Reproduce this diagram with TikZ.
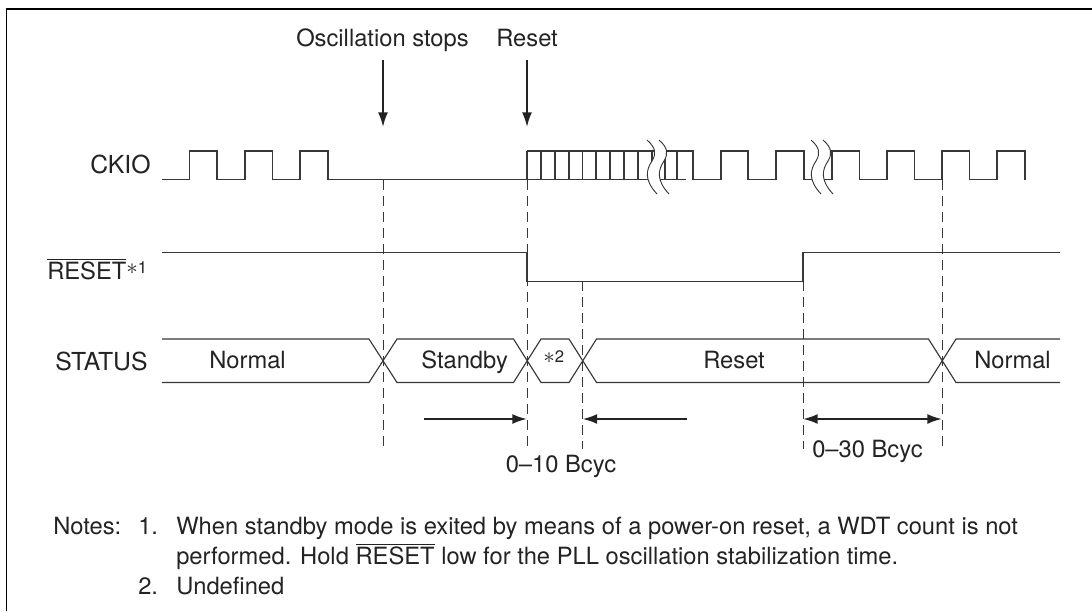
\documentclass[tikz,border=0pt]{standalone}
\usepackage{fontspec}
\setmainfont{TeX Gyre Heros}
\usepackage{tikz}
\usetikzlibrary{arrows.meta}
\definecolor{ink}{RGB}{35, 35, 35}
\definecolor{wave}{RGB}{55, 55, 55}
\newcommand{\resetbar}{$\overline{\mbox{RESET}}$}
\newcommand{\starnote}[1]{\raisebox{3.4pt}{\fontsize{17.3}{17}\selectfont$\ast$}\raisebox{4.4pt}{\fontsize{12.5}{13}\selectfont#1}}
\begin{document}
\begin{tikzpicture}[
    x=0.75pt, y=-0.75pt,
    lbl/.style={anchor=base west, inner sep=0pt, text=ink, font=\fontsize{17.8}{20}\selectfont},
    caps/.style={lbl, font=\fontsize{18.6}{20}\selectfont},
    sig/.style={draw=wave, line width=0.95pt, line join=miter},
    guide/.style={draw=wave, line width=0.7pt, dash pattern=on 7.5pt off 4.5pt},
    mark arrow/.style={draw=ink, line width=1.4pt, -{Latex[length=11pt,width=7.5pt]}},
    span arrow/.style={draw=ink, line width=1.6pt, {Latex[length=11pt,width=7.5pt]}-{Latex[length=11pt,width=7.5pt]}},
    brk/.style={draw=wave, line width=0.7pt}
]
\useasboundingbox (0,0) rectangle (1092,611);
\draw[black, line width=1.4pt] (6.5,611) -- (6.5,9) -- (1092,9);

\node[lbl] (oscText) at (296,46) {Oscillation stops};
\node[lbl] (rstText) at (496,46) {Reset};
\node[caps] (ckio) at (90,173) {CKIO};
\node[lbl] (rstLbl) at (47,279) {\resetbar\starnote{1}};
\node[caps] (status) at (55,370) {STATUS};
\node[lbl] (norm1) at (209,368) {Normal};
\node[lbl] (stby) at (421,368) {Standby};
\node[lbl] (undef) at (543,368) {\starnote{2}};
\node[lbl] (rst2) at (703,368) {Reset};
\node[lbl] (norm2) at (974,368) {Normal};
\node[lbl] (bc10) at (505.5,472) {0–10 Bcyc};
\node[lbl] (bc30) at (812,457) {0–30 Bcyc};
\node[lbl] (notes) at (53,534) {Notes:};
\node[lbl] (n1) at (138,534) {1.};
\node[lbl] (n1a) at (176,534) {When standby mode is exited by means of a power-on reset, a WDT count is not};
\node[lbl] (n1b) at (176,564) {performed. Hold \resetbar{} low for the PLL oscillation stabilization time.};
\node[lbl] (n2) at (138,594) {2.};
\node[lbl] (n2a) at (176,594) {Undefined};

\draw[sig] (162,179.5) -- (189.5,179.5) -- (189.5,151) -- (217,151) -- (217,179.5)
    -- (245,179.5) -- (245,151) -- (272.5,151) -- (272.5,179.5)
    -- (300,179.5) -- (300,151) -- (328,151) -- (328,179.5) -- (686,179.5);
\draw[sig] (527,151) -- (693,151) -- (693,179.5) -- (721,179.5) -- (721,151)
    -- (748,151) -- (748,179.5) -- (776,179.5) -- (776,151) -- (804,151) -- (804,179.5)
    -- (832,179.5) -- (832,151) -- (859.5,151) -- (859.5,179.5) -- (887,179.5) -- (887,151)
    -- (914.5,151) -- (914.5,179.5) -- (942,179.5) -- (942,151) -- (969.5,151) -- (969.5,179.5)
    -- (997,179.5) -- (997,151) -- (1025,151) -- (1025,179.5);
\foreach \t in {527,541,555,569,582.5,596,610,624,638,652,665,677}
    \draw[sig] (\t,151) -- (\t,179.5);
\foreach \b in {647,811} {
    \fill[white] (\b,140) .. controls (\b+8,147) and (\b+10,153) .. (\b+5,161)
        .. controls (\b-1,170) and (\b-3,180) .. (\b+10,194) -- (\b+22,194)
        .. controls (\b+9,180) and (\b+11,170) .. (\b+17,161)
        .. controls (\b+22,153) and (\b+20,147) .. (\b+12,140) -- cycle;
    \foreach \s in {0,12}
        \draw[brk] (\b+\s,140) .. controls (\b+\s+8,147) and (\b+\s+10,153) .. (\b+\s+5,161)
            .. controls (\b+\s-1,170) and (\b+\s-3,180) .. (\b+\s+10,194);
}

\draw[sig] (162,252.5) -- (527,252.5) -- (527,281.5) -- (803,281.5) -- (803,252.5) -- (1060,252.5);

\draw[sig, line width=0.85pt] (162,339) -- (369,339) -- (397,382.5) -- (513.5,382.5) -- (541,339) -- (569,339)
    -- (596.5,382.5) -- (928.5,382.5) -- (956,339) -- (1060,339);
\draw[sig, line width=0.85pt] (162,382.5) -- (369,382.5) -- (397,339) -- (513.5,339) -- (541,382.5) -- (569,382.5)
    -- (596.5,339) -- (928.5,339) -- (956,382.5) -- (1060,382.5);

\coordinate (g1a) at (383,180);
\coordinate (g1b) at (383,447);
\coordinate (g2a) at (527,180);
\coordinate (g2b) at (527,447);
\coordinate (g3a) at (582.5,281);
\coordinate (g3b) at (582.5,449);
\coordinate (g4a) at (803,281);
\coordinate (g4b) at (803,449);
\coordinate (g5a) at (942,180);
\coordinate (g5b) at (942,448);
\foreach \g in {1,...,5}
    \draw[guide] (g\g a) -- (g\g b);

\coordinate (oscTop) at (383,60);
\coordinate (oscEnd) at (383,127);
\coordinate (rstTop) at (527,60);
\coordinate (rstEnd) at (527,127);
\draw[mark arrow] (oscTop) -- (oscEnd);
\draw[mark arrow] (rstTop) -- (rstEnd);

\coordinate (spanL) at (424,419);
\coordinate (spanR) at (687,419);
\coordinate (hitL) at (527,419);
\coordinate (hitR) at (582.5,419);
\coordinate (s30a) at (803,419);
\coordinate (s30b) at (942,419);
\draw[mark arrow, line width=1.6pt] (spanL) -- (hitL);
\draw[mark arrow, line width=1.6pt] (spanR) -- (hitR);
\draw[span arrow] (s30a) -- (s30b);
\end{tikzpicture}
\end{document}
